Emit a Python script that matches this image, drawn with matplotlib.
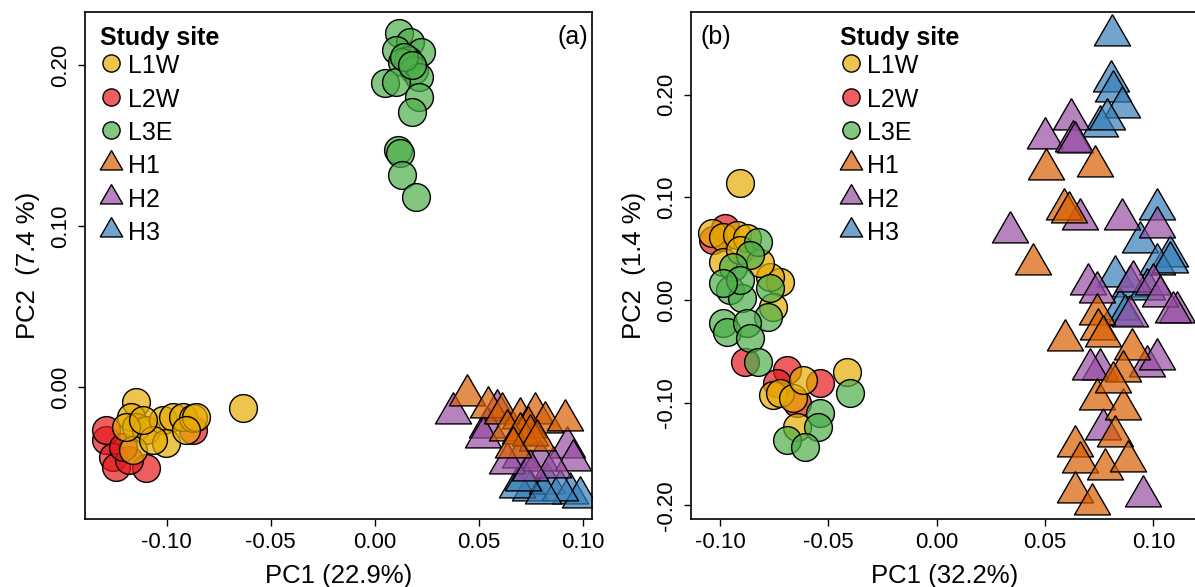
import numpy as np
import matplotlib
matplotlib.use("Agg")
import matplotlib.pyplot as plt
from matplotlib.colors import to_rgba

plt.rcParams['font.family'] = ['Liberation Sans', 'DejaVu Sans']

sites = ["L1W", "L2W", "L3E", "H1", "H2", "H3"]
site_colors = {"L1W": "#E6AB02", "L2W": "#E41A1C", "L3E": "#4DAF4A",
               "H1": "#D95F02", "H2": "#984EA3", "H3": "#377EB8"}
draw_order = ["H3", "H2", "H1", "L2W", "L1W", "L3E"]

# ---- panel (a): PC1 vs PC2 ----
a_L1W_x = [-0.1148, -0.0635, -0.1172, -0.1148, -0.1100, -0.1019, -0.0971, -0.0923,
           -0.0875, -0.0859, -0.1003, -0.1163, -0.1067, -0.0907, -0.1196, -0.1115]
a_L1W_y = [-0.0091, -0.0132, -0.0184, -0.0247, -0.0267, -0.0205, -0.0184, -0.0184,
           -0.0194, -0.0184, -0.0350, -0.0391, -0.0329, -0.0267, -0.0247, -0.0205]
a_L2W_x = [-0.1292, -0.1260, -0.1244, -0.1100, -0.1180, -0.0875, -0.1292, -0.1212]
a_L2W_y = [-0.0329, -0.0433, -0.0495, -0.0505, -0.0453, -0.0267, -0.0267, -0.0371]
a_L3E_x = [0.0117, 0.0168, 0.0223, 0.0102, 0.0159, 0.0131, 0.0187, 0.0213,
           0.0048, 0.0102, 0.0213, 0.0177, 0.0112, 0.0122, 0.0131, 0.0196, 0.0140, 0.0180]
a_L3E_y = [0.2199, 0.2145, 0.2083, 0.2093, 0.2031, 0.2020, 0.1969, 0.1927,
           0.1886, 0.1896, 0.1803, 0.1710, 0.1472, 0.1452, 0.1317, 0.1182, 0.2050, 0.2000]
a_H1_x = [0.0442, 0.0546, 0.0611, 0.0699, 0.0771, 0.0819, 0.0915, 0.0738,
          0.0635, 0.0699, 0.0747, 0.0779, 0.0665]
a_H1_y = [-0.0050, -0.0123, -0.0163, -0.0194, -0.0163, -0.0216, -0.0205, -0.0247,
          -0.0267, -0.0286, -0.0298, -0.0329, -0.0373]
a_H2_x = [0.0378, 0.0587, 0.0538, 0.0521, 0.0699, 0.0795, 0.0923, 0.0953,
          0.0635, 0.0857, 0.0747]
a_H2_y = [-0.0163, -0.0143, -0.0247, -0.0309, -0.0433, -0.0453, -0.0371, -0.0453,
          -0.0472, -0.0495, -0.0516]
a_H3_x = [0.0747, 0.0683, 0.0827, 0.0939, 0.0987, 0.0891, 0.0809, 0.0713]
a_H3_y = [-0.0640, -0.0619, -0.0596, -0.0658, -0.0681, -0.0640, -0.0658, -0.0578]

# ---- panel (b): PC1 vs PC2 ----
b_L1W_x = [-0.0908, -0.1038, -0.0985, -0.0923, -0.0877, -0.0985, -0.0723, -0.0769, -0.0754,
           -0.0908, -0.0415, -0.0754, -0.0723, -0.0662, -0.0616, -0.0646, -0.0815]
b_L1W_y = [0.1142, 0.0649, 0.0616, 0.0633, 0.0601, 0.0373, 0.0178, 0.0227, -0.0065,
           0.0487, -0.0698, -0.0925, -0.0908, -0.0957, -0.0779, -0.1234, 0.0357]
b_L2W_x = [-0.0977, -0.1031, -0.0885, -0.0692, -0.0539, -0.0738, -0.0646]
b_L2W_y = [0.0698, 0.0584, -0.0601, -0.0682, -0.0811, -0.0811, -0.1006]
b_L3E_x = [-0.0823, -0.0862, -0.0939, -0.0954, -0.0900, -0.0769, -0.0777, -0.0985, -0.0969,
           -0.0877, -0.0862, -0.0823, -0.0400, -0.0539, -0.0546, -0.0692, -0.0608, -0.0908, -0.0985]
b_L3E_y = [0.0568, 0.0438, 0.0324, 0.0097, 0.0017, 0.0114, -0.0163, -0.0227, -0.0309,
           -0.0227, -0.0373, -0.0601, -0.0908, -0.1103, -0.1234, -0.1363, -0.1428, 0.0195, 0.0163]
b_H1_x = [0.0504, 0.0730, 0.0589, 0.0612, 0.0446, 0.0592, 0.0738, 0.0746, 0.0769, 0.0900, 0.0861,
          0.0738, 0.0861, 0.0823, 0.0638, 0.0661, 0.0777, 0.0884, 0.0638, 0.0715, 0.0814]
b_H1_y = [0.1276, 0.1308, 0.0886, 0.0854, 0.0351, -0.0394, -0.0136, -0.0282, -0.0348, -0.0477, -0.0688,
          -0.0964, -0.1061, -0.1321, -0.1419, -0.1580, -0.1646, -0.1565, -0.1872, -0.1986, -0.0798]
b_H2_x = [0.0618, 0.0500, 0.0628, 0.0638, 0.0661, 0.0854, 0.0338, 0.1015, 0.0700, 0.0738, 0.0907,
          0.1000, 0.1108, 0.1030, 0.0892, 0.0754, 0.0969, 0.1015, 0.0769, 0.0953, 0.0707, 0.1092]
b_H2_y = [0.1762, 0.1574, 0.1551, 0.1536, 0.0789, 0.0789, 0.0659, 0.0708, 0.0156, 0.0075, 0.0188,
          0.0156, -0.0120, 0.0042, -0.0153, -0.0672, -0.0640, -0.0574, -0.1256, -0.1906, -0.0672, -0.0117]
b_H3_x = [0.0808, 0.0804, 0.0812, 0.0854, 0.0754, 0.0785, 0.1015, 0.1077, 0.0938, 0.1015,
          0.0823, 0.0892, 0.0969, 0.0846, 0.1077, 0.0869]
b_H3_y = [0.2580, 0.2135, 0.2038, 0.1876, 0.1697, 0.1762, 0.0886, 0.0431, 0.0562, 0.0351,
          0.0237, 0.0139, 0.0107, -0.0088, 0.0370, -0.0146]

panel_a = {"L1W": (a_L1W_x, a_L1W_y), "L2W": (a_L2W_x, a_L2W_y), "L3E": (a_L3E_x, a_L3E_y),
           "H1": (a_H1_x, a_H1_y), "H2": (a_H2_x, a_H2_y), "H3": (a_H3_x, a_H3_y)}
panel_b = {"L1W": (b_L1W_x, b_L1W_y), "L2W": (b_L2W_x, b_L2W_y), "L3E": (b_L3E_x, b_L3E_y),
           "H1": (b_H1_x, b_H1_y), "H2": (b_H2_x, b_H2_y), "H3": (b_H3_x, b_H3_y)}

# equilateral triangle centred on its centroid (like R's pch 24)
tri = [(0, 1), (-0.866, -0.5), (0.866, -0.5), (0, 1)]


def draw_panel(ax, data, xlim, ylim, xticks, yticks, xlabel, ylabel, tag, tag_x, tag_ha, leg_x):
    handles = {}
    for s in draw_order:
        x, y = data[s]
        is_circle = s.startswith("L")
        h = ax.scatter(x, y, s=400 if is_circle else 900,
                       marker="o" if is_circle else tri,
                       facecolor=to_rgba(site_colors[s], 0.7),
                       edgecolor="black", linewidth=1.0)
        handles[s] = h
    ax.set_xlim(*xlim)
    ax.set_ylim(*ylim)
    ax.set_xticks(xticks)
    ax.set_xticklabels(["%.2f" % v for v in xticks])
    ax.set_yticks(yticks)
    ax.set_yticklabels(["%.2f" % v for v in yticks], rotation=90, va="center")
    ax.tick_params(labelsize=16, length=5, width=1.0, direction="out")
    ax.tick_params(axis="y", pad=5)
    ax.tick_params(axis="x", pad=4)
    for sp in ax.spines.values():
        sp.set_linewidth(1.2)
    ax.set_xlabel(xlabel, fontsize=18.5, labelpad=8)
    ax.set_ylabel(ylabel, fontsize=18.5, labelpad=7)
    ax.text(tag_x, 0.951, tag, transform=ax.transAxes, ha=tag_ha, va="center", fontsize=18)
    leg = ax.legend([handles[s] for s in sites], sites, loc="upper left",
                    bbox_to_anchor=(leg_x, 0.972), frameon=False, fontsize=18,
                    title="Study site", title_fontproperties={"weight": "bold", "size": 18},
                    alignment="left", markerscale=0.62, handlelength=0.9, handleheight=1.25,
                    handletextpad=0.2, labelspacing=0.27, borderpad=0, borderaxespad=0)
    # tighter gap between the title and the first entry
    leg._legend_box.sep = 1
    return leg


fig = plt.figure(figsize=(11.95, 5.87), dpi=100)
ax_a = fig.add_axes([0.0711, 0.1158, 0.4241, 0.8638])
ax_b = fig.add_axes([0.5780, 0.1158, 0.4253, 0.8638])

draw_panel(ax_a, panel_a, (-0.1393, 0.1043), (-0.0820, 0.2329),
           [-0.10, -0.05, 0.00, 0.05, 0.10], [0.00, 0.10, 0.20],
           "PC1 (22.9%)", "PC2  (7.4 %)", "(a)", 0.993, "right", 0.03)
draw_panel(ax_b, panel_b, (-0.1135, 0.1210), (-0.2132, 0.2804),
           [-0.10, -0.05, 0.00, 0.05, 0.10], [-0.20, -0.10, 0.00, 0.10, 0.20],
           "PC1 (32.2%)", "PC2  (1.4 %)", "(b)", 0.02, "left", 0.293)

fig.savefig("out.png", dpi=100)
